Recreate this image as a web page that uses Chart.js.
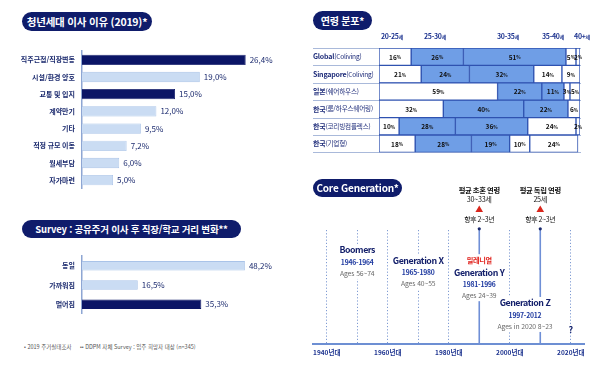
<!DOCTYPE html>
<html lang="ko">
<head>
<meta charset="utf-8">
<script src="https://cdn.jsdelivr.net/npm/chart.js@4.4.1/dist/chart.umd.min.js"></script>
<style>
  body { margin:0; width:600px; height:366px; background:#fff; overflow:hidden; position:relative;
         font-family:'Noto Sans CJK KR', 'Noto Sans', sans-serif; }
  canvas { position:absolute; }
  .pill { position:absolute; background:#0f1c6b; color:#fff; font-weight:700; border-radius:10px;
          text-align:center; white-space:nowrap; z-index:2; letter-spacing:-0.2px; }
  .col-head { position:absolute; top:31px; transform:translateX(-50%); font-size:7px; font-weight:700;
              color:#1f3590; white-space:nowrap; z-index:2; letter-spacing:-0.3px; }
  .col-head small { font-size:5px; }
  .note { position:absolute; top:343px; font-size:5.5px; color:#555; white-space:nowrap; }
</style>
</head>
<body>

<div class="pill" style="left:22px;top:12px;width:130px;height:19px;line-height:19px;font-size:10.5px;">청년세대 이사 이유 (2019)*</div>
<div class="pill" style="left:22px;top:220px;width:219px;height:18px;line-height:18px;font-size:9.5px;">Survey : 공유주거 이사 후 직장/학교 거리 변화**</div>
<div class="pill" style="left:313px;top:11px;width:59px;height:19px;line-height:19px;font-size:10px;">연령 분포*</div>
<div class="pill" style="left:313px;top:179px;width:89px;height:18px;line-height:18px;font-size:10px;">Core Generation*</div>

<div id="ageHeads"></div>

<div class="note" style="left:24px;">• 2019 주거실태조사</div>
<div class="note" style="left:80px;">•• DDPM 자체 Survey : 입주 희망자 대상 (n=345)</div>

<canvas id="chartReasons" width="300" height="160" style="left:0;top:40px"></canvas>
<canvas id="chartDistance" width="300" height="80" style="left:0;top:245px"></canvas>
<canvas id="chartAges" width="300" height="120" style="left:300px;top:40px"></canvas>
<canvas id="chartGenerations" width="300" height="191" style="left:300px;top:175px"></canvas>

<script>
// ====================================
// 데이터
// ====================================

// 청년세대 이사 이유 (2019)
const reasonLabels = ['직주근접/직장변동', '시설/환경 양호', '교통 및 입지', '계약만기', '기타', '적정 규모 이동', '월세부담', '자가마련'];
const reasonValues = [26.4, 19.0, 15.0, 12.0, 9.5, 7.2, 6.0, 5.0];
const reasonHighlight = [true, false, true, false, false, false, false, false];

// 공유주거 이사 후 직장/학교 거리 변화
const distanceLabels = ['동일', '가까워짐', '멀어짐'];
const distanceValues = [48.2, 16.5, 35.3];
const distanceHighlight = [false, false, true];

// 연령 분포
const ageRows = ['Global(Coliving)', 'Singapore(Coliving)', '일본(쉐어하우스)', '한국(룸/하우스쉐어링)', '한국(코리빙컴플렉스)', '한국(기업형)'];
const ageGroups = ['20-25세', '25-30세', '30-35세', '35-40세', '40+세'];
const age20to25 = [16, 21, 59, 32, 10, 18];
const age25to30 = [26, 24, 22, 40, 28, 28];
const age30to35 = [51, 32, 11, 22, 36, 19];
const age35to40 = [5, 14, 3, 6, 24, 10];
const age40plus = [2, 9, 5, null, 2, 24];

// Core Generation
const genNames = ['Boomers', 'Generation X', 'Generation Y', 'Generation Z'];
const genSpans = ['1946-1964', '1965-1980', '1981-1996', '1997-2012'];
const genAges = ['Ages 56~74', 'Ages 40~55', 'Ages 24~39', 'Ages in 2020 8~23'];
const genTags = ['', '', '밀레니얼', ''];
const markerYears = [1990, 2010];
const markerTitles = ['평균 초혼 연령', '평균 독립 연령'];
const markerAges = ['30~33세', '25세'];
const markerNotes = ['향후 2~3년', '향후 2~3년'];

// ====================================
// 스타일
// ====================================
const FONT = "'Noto Sans CJK KR', 'Noto Sans', sans-serif";
const NAVY = '#0b1566';
const NAVY_TEXT = '#1b2a6e';
const LIGHT_BAR = '#cadcf3';
const LIGHT_BORDER = '#a9c3e8';
const AXIS_COLOR = '#8ea6d3';

Chart.defaults.font.family = FONT;
Chart.defaults.animation = false;
Chart.defaults.responsive = false;
Chart.defaults.plugins.legend.display = false;
Chart.defaults.plugins.tooltip.enabled = false;

// 막대 끝 값 표시
const valueLabels = {
    id: 'valueLabels',
    afterDatasetsDraw(chart) {
        const ctx = chart.ctx;
        const values = chart.data.datasets[0].data;
        ctx.save();
        ctx.font = '8px ' + FONT;
        ctx.fillStyle = NAVY_TEXT;
        ctx.textBaseline = 'middle';
        chart.getDatasetMeta(0).data.forEach((bar, i) => {
            ctx.fillText(values[i].toFixed(1).replace('.', ',') + '%', bar.x + 4, bar.y);
        });
        ctx.restore();
    }
};

function creaBarreOrizzontali(id, labels, values, highlight, opts) {
    return new Chart(document.getElementById(id), {
        type: 'bar',
        data: {
            labels: labels,
            datasets: [{
                data: values,
                backgroundColor: highlight.map(h => h ? NAVY : LIGHT_BAR),
                borderColor: highlight.map(h => h ? NAVY : LIGHT_BORDER),
                borderWidth: 0.8,
                barPercentage: opts.barPercentage,
                categoryPercentage: 1
            }]
        },
        options: {
            indexAxis: 'y',
            devicePixelRatio: 1,
            layout: { padding: opts.padding },
            scales: {
                x: { display: false, min: 0, max: opts.max },
                y: {
                    afterFit: s => { s.width = 82; },
                    grid: { display: true, drawOnChartArea: false, drawTicks: false },
                    border: { display: true, color: AXIS_COLOR, width: 1.5 },
                    ticks: { color: NAVY_TEXT, padding: 7, font: { size: 7, weight: 'bold' } }
                }
            }
        },
        plugins: [valueLabels]
    });
}

creaBarreOrizzontali('chartReasons', reasonLabels, reasonValues, reasonHighlight, {
    max: 35, barPercentage: 0.6, padding: { top: 7.5, bottom: 7, left: 0, right: 1 }
});

creaBarreOrizzontali('chartDistance', distanceLabels, distanceValues, distanceHighlight, {
    max: 64.2, barPercentage: 0.49, padding: { top: 8.5, bottom: 6.5, left: 0, right: 1 }
});

// ====================================
// 연령 분포 (누적 막대)
// ====================================
const headX = [392, 435, 508, 553, 582];
document.getElementById('ageHeads').innerHTML = ageGroups.map((g, i) =>
    `<div class="col-head" style="left:${headX[i]}px">${g.replace('세', '')}<small>세</small></div>`
).join('');

const ageSeries = [age20to25, age25to30, age30to35, age35to40, age40plus];
const BLUE_SEG = '#6f9ee6';

const agePlugin = {
    id: 'agePlugin',
    beforeDatasetsDraw(chart) {
        const ctx = chart.ctx;
        const y = chart.scales.y;
        const area = chart.chartArea;
        ctx.save();
        ctx.strokeStyle = '#a9b9da';
        ctx.lineWidth = 1;
        for (let i = 0; i <= ageRows.length; i++) {
            const py = Math.round(y.getPixelForValue(i - 0.5)) + 0.5;
            ctx.beginPath();
            ctx.moveTo(13, py);
            ctx.lineTo(area.right + 1, py);
            ctx.stroke();
        }
        ctx.restore();
    },
    afterDatasetsDraw(chart) {
        const ctx = chart.ctx;
        const y = chart.scales.y;
        ctx.save();
        ctx.textBaseline = 'middle';
        // 행 이름
        ageRows.forEach((row, i) => {
            const cut = row.indexOf('(');
            const bold = row.slice(0, cut);
            const rest = row.slice(cut);
            const py = y.getPixelForValue(i);
            ctx.fillStyle = '#1f2d7a';
            ctx.font = 'bold 7px ' + FONT;
            ctx.letterSpacing = '-0.2px';
            ctx.fillText(bold, 13, py);
            const w = ctx.measureText(bold).width;
            ctx.font = '6.6px ' + FONT;
            ctx.fillText(rest, 13 + w, py);
        });
        ctx.letterSpacing = '0px';
        // 구간 값
        chart.data.datasets.forEach((ds, d) => {
            chart.getDatasetMeta(d).data.forEach((bar, i) => {
                const v = ds.data[i];
                if (v === null) return;
                const cx = (bar.x + bar.base) / 2;
                ctx.font = 'bold 6.5px ' + FONT;
                const num = String(v);
                const wn = ctx.measureText(num).width;
                ctx.font = 'bold 4.5px ' + FONT;
                const wp = ctx.measureText('%').width;
                let x0 = cx - (wn + wp) / 2;
                ctx.fillStyle = '#111';
                ctx.font = 'bold 6.5px ' + FONT;
                ctx.fillText(num, x0, bar.y + 0.5);
                ctx.font = 'bold 4.5px ' + FONT;
                ctx.fillText('%', x0 + wn, bar.y + 1);
            });
        });
        ctx.restore();
    }
};

new Chart(document.getElementById('chartAges'), {
    type: 'bar',
    data: {
        labels: ageRows,
        datasets: ageSeries.map((s, i) => ({
            label: ageGroups[i],
            data: s,
            backgroundColor: (i === 1 || i === 2) ? BLUE_SEG : '#ffffff',
            borderColor: '#2f52b0',
            borderWidth: 1,
            borderSkipped: false,
            barPercentage: 1,
            categoryPercentage: 1
        }))
    },
    options: {
        indexAxis: 'y',
        devicePixelRatio: 1,
        layout: { padding: { top: 8, bottom: 7.6, left: 0, right: 20 } },
        scales: {
            x: { display: false, stacked: true, min: 0, max: 100 },
            y: {
                stacked: true,
                afterFit: s => { s.width = 79; },
                ticks: { display: false },
                grid: { display: false },
                border: { display: false }
            }
        }
    },
    plugins: [agePlugin]
});

// ====================================
// Core Generation (타임라인)
// ====================================
const genAnchorYear = [1950, 1970, 1990, 2005];
const genAnchorY = [82.5, 73.5, 63, 36];

function sfondoTesto(ctx, text, x, y, h) {
    const w = ctx.measureText(text).width;
    ctx.fillStyle = '#fff';
    ctx.fillRect(x - w / 2 - 2, y - h / 2, w + 4, h);
}

const timelinePlugin = {
    id: 'timelinePlugin',
    afterDatasetsDraw(chart) {
        const ctx = chart.ctx;
        const xs = chart.scales.x;
        const ys = chart.scales.y;
        const top = chart.chartArea.top;
        ctx.save();
        ctx.textAlign = 'center';
        ctx.textBaseline = 'middle';

        genNames.forEach((name, i) => {
            const cx = xs.getPixelForValue(genAnchorYear[i]);
            const cy = ys.getPixelForValue(genAnchorY[i]);
            const lines = [];
            if (genTags[i]) lines.push({ t: genTags[i], f: 'bold 7.2px ' + FONT, c: '#e0201b', dy: -12, ls: '-0.3px' });
            lines.push({ t: name, f: 'bold 8.8px ' + FONT, c: '#14206b', dy: 0, ls: '-0.45px' });
            lines.push({ t: genSpans[i], f: 'bold 6.8px ' + FONT, c: '#1f3aa0', dy: 12, ls: '-0.2px' });
            lines.push({ t: genAges[i], f: '6.8px ' + FONT, c: '#6a6a6a', dy: 23, ls: '-0.1px' });
            lines.forEach(l => {
                ctx.font = l.f;
                ctx.letterSpacing = l.ls;
                sfondoTesto(ctx, l.t, cx, cy + l.dy, 12);
            });
            lines.forEach(l => {
                ctx.font = l.f;
                ctx.letterSpacing = l.ls;
                ctx.fillStyle = l.c;
                ctx.fillText(l.t, cx, cy + l.dy);
            });
        });
        ctx.letterSpacing = '0px';

        // 2020 이후
        ctx.font = 'bold 9px ' + FONT;
        ctx.fillStyle = '#14206b';
        ctx.fillText('?', xs.getPixelForValue(2020), ys.getPixelForValue(13));

        // 평균 연령 표시
        markerYears.forEach((yr, i) => {
            const cx = xs.getPixelForValue(yr);
            ctx.letterSpacing = '-0.3px';
            ctx.fillStyle = '#111';
            ctx.font = 'bold 7.3px ' + FONT;
            ctx.fillText(markerTitles[i], cx, top - 40);
            ctx.font = '7.2px ' + FONT;
            ctx.fillText(markerAges[i], cx, top - 31);
            ctx.fillStyle = '#d9261c';
            ctx.beginPath();
            ctx.moveTo(cx, top - 24.5);
            ctx.lineTo(cx + 3.8, top - 18);
            ctx.lineTo(cx - 3.8, top - 18);
            ctx.closePath();
            ctx.fill();
            ctx.fillStyle = '#111';
            ctx.font = '6.9px ' + FONT;
            ctx.fillText(markerNotes[i], cx, top - 11);
        });
        ctx.restore();
    }
};

new Chart(document.getElementById('chartGenerations'), {
    type: 'scatter',
    data: {
        datasets: markerYears.map(yr => ({
            data: [{ x: yr, y: 0 }, { x: yr, y: 101 }],
            showLine: true,
            clip: false,
            borderColor: '#6f8fd6',
            borderWidth: 1.6,
            pointRadius: [0, 1.6],
            pointBackgroundColor: '#1b2a6e',
            pointBorderWidth: 0
        }))
    },
    options: {
        devicePixelRatio: 1,
        layout: { padding: { top: 55, bottom: 0, left: 13, right: 15.5 } },
        scales: {
            x: {
                type: 'linear',
                min: 1935.5,
                max: 2024.5,
                afterFit: s => { s.height = 22; },
                ticks: {
                    stepSize: 10,
                    includeBounds: false,
                    autoSkip: false,
                    maxRotation: 0,
                    padding: 5,
                    color: '#1f3590',
                    font: { size: 6.5, weight: 'bold' },
                    callback: v => v % 20 === 0 ? v + '년대' : ''
                },
                grid: { color: '#7f9bd3', lineWidth: 1, drawTicks: false },
                border: { display: true, color: '#6d8fd3', width: 2, dash: [1.2, 2] }
            },
            y: { display: false, min: 0, max: 100 }
        }
    },
    plugins: [timelinePlugin]
});
</script>
</body>
</html>
